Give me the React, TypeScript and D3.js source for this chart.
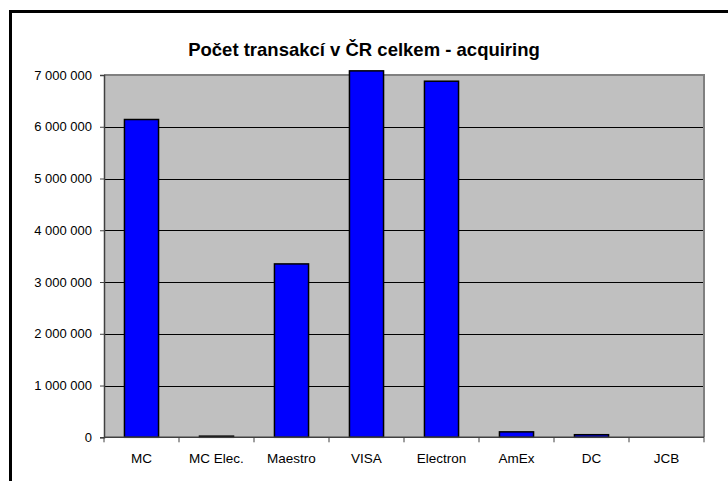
import { useEffect, useRef } from "react";
import * as d3 from "d3";

const categories = ["MC", "MC Elec.", "Maestro", "VISA", "Electron", "AmEx", "DC", "JCB"];
const values = [6140000, 22000, 3350000, 7080000, 6880000, 105000, 50000, 0];
const yTicks = [0, 1000000, 2000000, 3000000, 4000000, 5000000, 6000000, 7000000];
const title = "Počet transakcí v ČR celkem - acquiring";

export default function App() {
  const svgRef = useRef<SVGSVGElement | null>(null);

  useEffect(() => {
    const width = 728;
    const height = 481;
    const left = 104;
    const right = 704;
    const top = 75;
    const bottom = 437.3;
    const font = "'Liberation Sans', Arial, sans-serif";

    const svg = d3.select(svgRef.current);
    svg.selectAll("*").remove();
    svg.attr("width", width).attr("height", height);

    // outer frame (only left and top are visible)
    svg.append("line").attr("x1", 10.5).attr("x2", width + 5).attr("y1", 11.5).attr("y2", 11.5)
      .attr("stroke", "#000").attr("stroke-width", 3);
    svg.append("line").attr("x1", 10.5).attr("x2", 10.5).attr("y1", 10).attr("y2", height + 5)
      .attr("stroke", "#000").attr("stroke-width", 3);

    svg.append("text")
      .attr("x", 364)
      .attr("y", 56)
      .attr("text-anchor", "middle")
      .style("font-family", font)
      .style("font-weight", "bold")
      .style("font-size", "18.5px")
      .text(title);

    const x = d3.scaleBand().domain(categories).range([left, right]).padding(0);
    const y = d3.scaleLinear().domain([0, 7000000]).range([bottom, top]);

    // plot area
    svg.append("rect").attr("x", left).attr("y", top).attr("width", right - left).attr("height", bottom - top)
      .attr("fill", "#c0c0c0");

    // gridlines
    svg.append("g").selectAll("line").data(yTicks.slice(1, -1)).join("line")
      .attr("x1", left).attr("x2", right)
      .attr("y1", (d) => Math.round(y(d)) + 0.5).attr("y2", (d) => Math.round(y(d)) + 0.5)
      .attr("stroke", "#000").attr("stroke-width", 1);

    // plot border top/right
    svg.append("path")
      .attr("d", `M${left},${top} H${right} V${bottom}`)
      .attr("fill", "none").attr("stroke", "#808080").attr("stroke-width", 2);

    // bars
    const barW = x.bandwidth() / 2.2;
    svg.append("g").selectAll("rect").data(values).join("rect")
      .attr("x", (_, i) => x(categories[i])! + (x.bandwidth() - barW) / 2)
      .attr("y", (d) => y(d))
      .attr("width", barW)
      .attr("height", (d) => bottom - y(d))
      .attr("fill", (d) => (d > 0 ? "#0000ff" : "none"))
      .attr("stroke", (d) => (d > 0 ? "#000" : "none"))
      .attr("stroke-width", 1.5);

    const fmt = (v: number) => d3.format(",")(v).replace(/,/g, " ");

    // y axis
    const yAxis = svg.append("g").attr("transform", `translate(${left},0)`)
      .call(d3.axisLeft(y).tickValues(yTicks).tickFormat((d) => fmt(d as number)).tickSize(4).tickPadding(8));
    yAxis.select(".domain").attr("stroke", "#404040").attr("stroke-width", 1.5);
    yAxis.selectAll(".tick line").attr("stroke", "#404040");
    yAxis.selectAll("text")
      .style("font-family", font)
      .style("font-size", "13px")
      .attr("fill", "#000");

    // x axis
    const xAxis = svg.append("g").attr("transform", `translate(0,${bottom})`);
    xAxis.append("line").attr("x1", left).attr("x2", right).attr("y1", 0).attr("y2", 0)
      .attr("stroke", "#404040").attr("stroke-width", 1.5);
    const edges = categories.map((c) => x(c)!).concat([right]);
    xAxis.selectAll("line.tick").data(edges).join("line")
      .attr("class", "tick")
      .attr("x1", (d) => d).attr("x2", (d) => d)
      .attr("y1", 0).attr("y2", 5)
      .attr("stroke", "#404040");
    xAxis.selectAll("text").data(categories).join("text")
      .attr("x", (d) => x(d)! + x.bandwidth() / 2)
      .attr("y", 26)
      .attr("text-anchor", "middle")
      .style("font-family", font)
      .style("font-size", "13.5px")
      .text((d) => d);
  }, []);

  return (
    <div style={{ position: "absolute", left: 0, top: 0 }}>
      <svg ref={svgRef}></svg>
    </div>
  );
}
